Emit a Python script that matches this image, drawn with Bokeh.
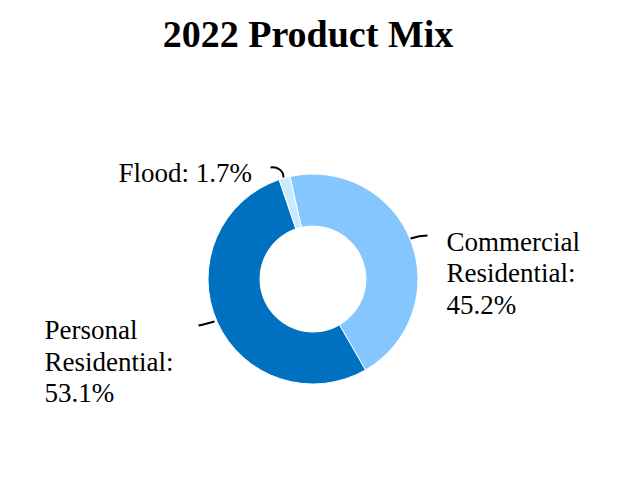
import math
from bokeh.plotting import figure
from bokeh.models import Range1d
from bokeh.core.properties import value
from bokeh.embed import file_html
from bokeh.resources import INLINE

# ---- data ----
title_text = "2022 Product Mix"
categories = ["Commercial Residential", "Personal Residential", "Flood"]
shares = [45.2, 53.1, 1.7]
colors = ["#85C6FF", "#0070C0", "#C8EAFF"]
label_lines = [
    ["Commercial", "Residential:", "45.2%"],
    ["Personal", "Residential:", "53.1%"],
    ["Flood: 1.7%"],
]

W, H = 608, 464
p = figure(width=W, height=H, output_backend="svg", toolbar_location=None,
           x_range=Range1d(0, W), y_range=Range1d(0, H), min_border=0,
           background_fill_color="white", border_fill_color="white")
p.axis.visible = False
p.grid.visible = False
p.outline_line_color = None

def px(x):
    return x

def py(y):
    return H - y

# ---- donut ----
cx, cy = px(312.5), py(278.5)
start = math.radians(102.7)
total = sum(shares)
starts, ends = [], []
a = start
for s in shares:
    starts.append(a)
    a = a - 2 * math.pi * s / total
    ends.append(a)
p.annular_wedge(x=[cx] * len(shares), y=[cy] * len(shares),
                inner_radius=53, outer_radius=105,
                inner_radius_units="screen", outer_radius_units="screen",
                start_angle=starts, end_angle=ends, direction="clock",
                fill_color=colors, line_color="white", line_width=1)

# ---- leader lines ----
leaders = [
    ((410, 238), (416, 236), (421, 235), (427, 235)),
    ((198, 325), (204, 324), (209, 322), (214, 321)),
    ((270, 167), (277, 166), (283, 170), (283, 177)),
]
p.bezier(x0=[px(l[0][0]) for l in leaders], y0=[py(l[0][1]) for l in leaders],
         cx0=[px(l[1][0]) for l in leaders], cy0=[py(l[1][1]) for l in leaders],
         cx1=[px(l[2][0]) for l in leaders], cy1=[py(l[2][1]) for l in leaders],
         x1=[px(l[3][0]) for l in leaders], y1=[py(l[3][1]) for l in leaders],
         line_color="black", line_width=2)

# ---- labels ----
label_pos = [(446, 241), (44, 329.5), (118, 172)]
lh = 31.5
xs, ys, ts = [], [], []
for (lx, ly), lines in zip(label_pos, label_lines):
    for i, t in enumerate(lines):
        xs.append(px(lx))
        ys.append(py(ly + i * lh))
        ts.append(t)
p.text(x=xs, y=ys, text=ts, text_font=value("Liberation Serif"),
       text_font_size="27px", text_color="#000000",
       text_align="left", text_baseline="alphabetic")

# ---- title ----
p.text(x=[px(307.5)], y=[py(33)], text=[title_text],
       text_font=value("Liberation Serif"), text_font_style="bold",
       text_font_size="38px", text_color="#000000",
       text_align="center", text_baseline="alphabetic")

open("out.html", "w").write(file_html(p, INLINE))
